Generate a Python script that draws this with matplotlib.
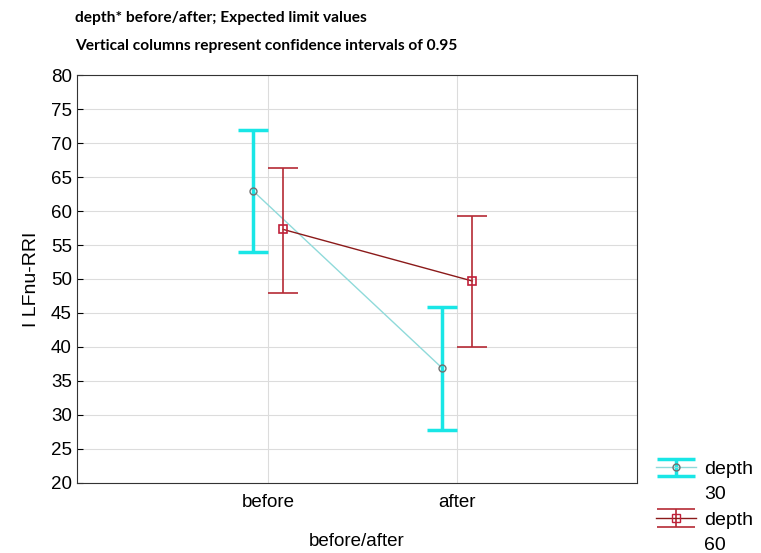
import numpy as np
import matplotlib.pyplot as plt
from matplotlib.legend_handler import HandlerErrorbar

categories = ["before", "after"]
depth30_mean = [63.0, 36.9]
depth30_low = [54.0, 27.8]
depth30_high = [72.0, 45.9]
depth60_mean = [57.3, 49.7]
depth60_low = [48.0, 40.0]
depth60_high = [66.3, 59.2]

plt.rcParams['font.family'] = ['Liberation Sans', 'DejaVu Sans']


class TopErrorbar(HandlerErrorbar):
    # put the legend key next to the first line of a two-line label
    def create_artists(self, legend, orig_handle, xdescent, ydescent,
                       width, height, fontsize, trans):
        return super().create_artists(legend, orig_handle, xdescent, ydescent - 21,
                                      width, height, fontsize, trans)


fig = plt.figure(figsize=(7.61, 5.53), dpi=100)
ax = fig.add_axes([0.101, 0.127, 0.736, 0.737])

x = np.arange(1, len(categories) + 1)
off = 0.08
cyan = "#19e6e6"
red = "#b52a35"

m30 = np.array(depth30_mean)
err30 = [m30 - np.array(depth30_low), np.array(depth30_high) - m30]
m60 = np.array(depth60_mean)
err60 = [m60 - np.array(depth60_low), np.array(depth60_high) - m60]

ax.plot(x - off, m30, color="#8fdada", lw=1, zorder=2)
ax.errorbar(x - off, m30, yerr=err30, fmt="none", ecolor=cyan, elinewidth=2.5,
            capsize=11, capthick=2.5, zorder=3)
ax.plot(x - off, m30, "o", ms=5, mfc="none", mec="#707070", mew=1, zorder=4)

ax.plot(x + off, m60, color="#8b1a1a", lw=1, zorder=2)
ax.errorbar(x + off, m60, yerr=err60, fmt="none", ecolor=red, elinewidth=1.2,
            capsize=11, capthick=1.2, zorder=3)
ax.plot(x + off, m60, "s", ms=6, mfc="none", mec="#c0203a", mew=1.2, zorder=4)

ax.set_xlim(-0.01, 2.95)
ax.set_ylim(20, 80)
ax.set_xticks(x)
ax.set_xticklabels(categories)
ax.set_yticks(np.arange(20, 81, 5))
ax.grid(True, color="#dcdcdc", lw=0.8)
ax.set_axisbelow(True)
ax.tick_params(axis="both", labelsize=13.5, direction="in", length=4)
ax.tick_params(axis="x", length=0, pad=8)
for s in ax.spines.values():
    s.set_color("#333333")
    s.set_linewidth(0.8)

ax.set_xlabel("before/after", fontsize=13.5, labelpad=16)
ax.set_ylabel("I LFnu-RRI", fontsize=14, labelpad=8)

title_font = ['Lato', 'DejaVu Sans']
fig.text(0.099, 0.967, "depth* before/after; Expected limit values",
         fontsize=11.2, fontweight="bold", family=title_font, va="center")
fig.text(0.099, 0.917, "Vertical columns represent confidence intervals of 0.95",
         fontsize=11.2, fontweight="bold", family=title_font, va="center")

h30 = ax.errorbar([np.nan], [np.nan], yerr=[1], fmt="-o", color="#8fdada", ecolor=cyan,
                  mfc="none", mec="#707070", ms=5, elinewidth=2.5, capsize=14,
                  capthick=2.5, lw=1)
h60 = ax.errorbar([np.nan], [np.nan], yerr=[1], fmt="-s", color="#8b1a1a", ecolor=red,
                  mfc="none", mec="#c0203a", ms=6, elinewidth=1.2, capsize=14,
                  capthick=1.2, lw=1)
leg = fig.legend([h30, h60], ["depth\n30", "depth\n60"], loc="lower left",
                 bbox_to_anchor=(0.839, -0.033), frameon=False, fontsize=14,
                 handlelength=2.07, handletextpad=0.4, labelspacing=0.45,
                 handler_map={type(h30): TopErrorbar(yerr_size=0.45)})
for t in leg.get_texts():
    t.set_linespacing(1.6)

fig.savefig("out.png", dpi=100)
